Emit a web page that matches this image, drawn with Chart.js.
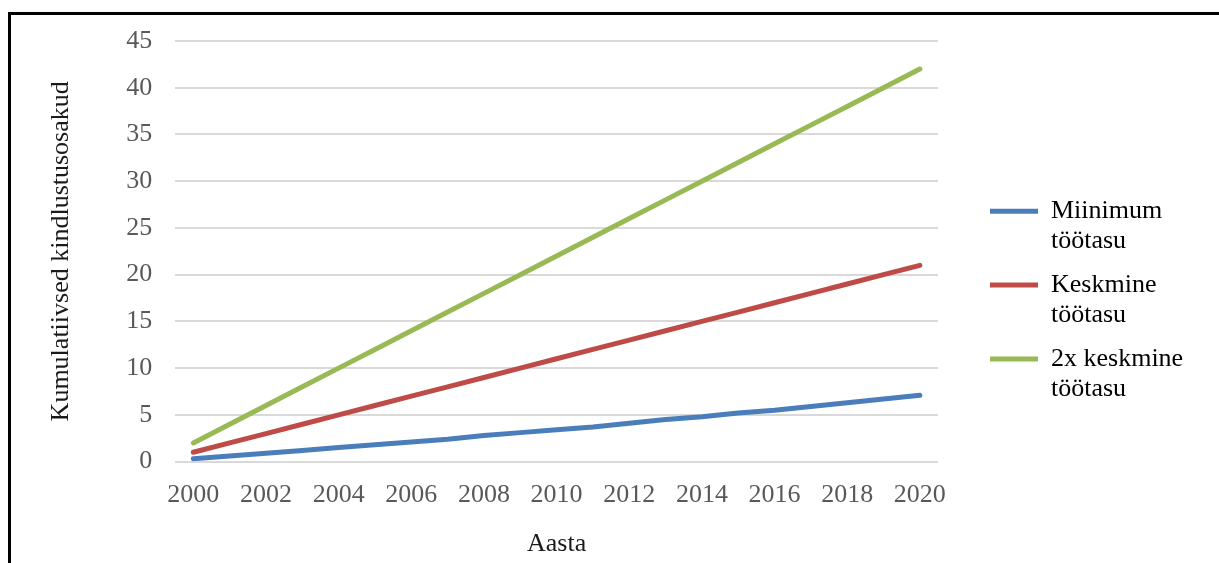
<!DOCTYPE html>
<html>
<head>
<meta charset="utf-8">
<script src="https://cdn.jsdelivr.net/npm/chart.js@4"></script>
<style>
  html, body { margin: 0; padding: 0; background: #fff; }
  #wrap { position: relative; width: 1219px; height: 563px; overflow: hidden; }
  /* black frame, only left and top edges visible */
  #frame { position: absolute; left: 8px; top: 12px; width: 1300px; height: 700px;
           border-left: 3px solid #000; border-top: 3px solid #000; }
  #chart { position: absolute; left: 0; top: 0; }
</style>
</head>
<body>
<div id="wrap">
  <div id="frame"></div>
  <canvas id="chart" width="1219" height="563"></canvas>
</div>
<script>
const years = ['2000', '2001', '2002', '2003', '2004', '2005', '2006', '2007', '2008', '2009', '2010',
               '2011', '2012', '2013', '2014', '2015', '2016', '2017', '2018', '2019', '2020'];

// kumulatiivsed kindlustusosakud
const minWage = [0.3, 0.6, 0.9, 1.2, 1.5, 1.8, 2.1, 2.4, 2.8, 3.1, 3.4,
                 3.7, 4.1, 4.5, 4.8, 5.2, 5.5, 5.9, 6.3, 6.7, 7.1];
const avgWage = [1, 2, 3, 4, 5, 6, 7, 8, 9, 10, 11,
                 12, 13, 14, 15, 16, 17, 18, 19, 20, 21];
const doubleAvgWage = [2, 4, 6, 8, 10, 12, 14, 16, 18, 20, 22,
                       24, 26, 28, 30, 32, 34, 36, 38, 40, 42];

const seriesNames = [['Miinimum', 'töötasu'], ['Keskmine', 'töötasu'], ['2x keskmine', 'töötasu']];

Chart.defaults.font.family = '"Liberation Serif", "Times New Roman", serif';
Chart.defaults.font.size = 26;
Chart.defaults.color = '#595959';

function lineSet(name, values, color) {
  return {
    label: name.join(' '),
    data: values,
    borderColor: color,
    backgroundColor: color,
    borderWidth: 5,
    borderCapStyle: 'round',
    borderJoinStyle: 'round',
    pointRadius: 0,
    tension: 0
  };
}

// the legend measures two-line labels too narrow, so give it a minimum width
const legendMinWidth = {
  id: 'legendMinWidth',
  afterInit(chart) {
    const legend = chart.legend;
    const fit = legend.fit.bind(legend);
    legend.fit = () => {
      fit();
      legend.width = Math.max(legend.width, 230);
    };
  }
};

new Chart(document.getElementById('chart'), {
  type: 'line',
  data: {
    labels: years,
    datasets: [
      lineSet(seriesNames[0], minWage, '#4A7EBB'),
      lineSet(seriesNames[1], avgWage, '#BE4B48'),
      lineSet(seriesNames[2], doubleAvgWage, '#98B954')
    ]
  },
  plugins: [legendMinWidth],
  options: {
    responsive: false,
    animation: false,
    layout: { padding: { top: 41, bottom: 0, left: 20, right: 13 } },
    scales: {
      x: {
        offset: true,
        grid: { display: false, drawTicks: false },
        border: { display: false },
        ticks: {
          autoSkip: false,
          maxRotation: 0,
          padding: 18,
          callback: (v, i) => (i % 2 === 0 ? years[i] : '')
        },
        title: { display: true, text: 'Aasta', color: '#1a1a1a', padding: { top: 0, bottom: 3 } }
      },
      y: {
        min: 0,
        max: 45,
        ticks: { stepSize: 5, padding: 23 },
        grid: { color: '#D9D9D9', lineWidth: 2, drawTicks: false },
        border: { display: false },
        title: { display: true, text: 'Kumulatiivsed kindlustusosakud', color: '#1a1a1a', padding: { top: 26, bottom: 26 } }
      },
      // empty spacer between the plot and the legend
      ySpacer: {
        position: 'right',
        display: true,
        grid: { display: false },
        border: { display: false },
        ticks: { display: false },
        afterFit: (scale) => { scale.width = 38; }
      }
    },
    plugins: {
      tooltip: { enabled: false },
      legend: {
        position: 'right',
        align: 'center',
        labels: {
          boxWidth: 48,
          boxHeight: 5,
          padding: 14,
          color: '#595959',
          font: { size: 26, lineHeight: 1.15 },
          generateLabels(chart) {
            return chart.data.datasets.map((ds, i) => ({
              text: seriesNames[i],
              fillStyle: ds.borderColor,
              strokeStyle: ds.borderColor,
              lineWidth: 0,
              hidden: !chart.isDatasetVisible(i),
              datasetIndex: i
            }));
          }
        }
      }
    }
  }
});
</script>
</body>
</html>
